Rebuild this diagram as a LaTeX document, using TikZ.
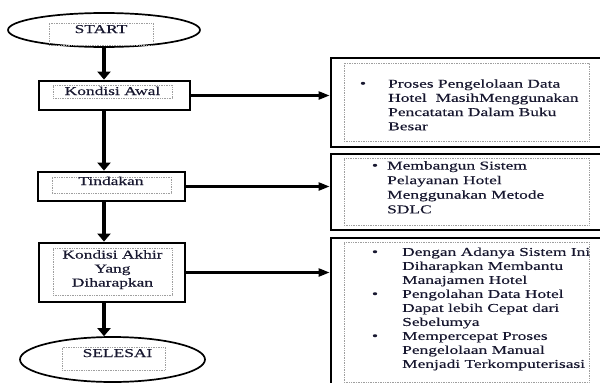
\documentclass[tikz,border=0pt]{standalone}
\usepackage{fontspec}
\setmainfont{Liberation Serif}[FakeStretch=1.45,FakeBold=0.3]
\usetikzlibrary{arrows.meta,shapes.geometric}
\definecolor{ink}{RGB}{24,24,48}

\begin{document}
\begin{tikzpicture}[x=1pt,y=-1pt,
  txt/.style={font=\fontsize{12}{14}\selectfont, text=ink, inner sep=0pt},
  flowbox/.style={draw, line width=2.8pt, rectangle, inner sep=0pt},
  oval/.style={draw, line width=1.7pt, ellipse, inner sep=0pt},
  frame/.style={draw=gray!75, densely dotted, line width=0.7pt, rectangle, inner sep=0pt},
  down/.style={line width=3.8pt, -{Triangle[length=8pt,width=13pt]}},
  side/.style={line width=2.3pt, -{Triangle[length=11pt,width=8pt]}},
]
\useasboundingbox (0,0) rectangle (600,383);
\clip (0,0) rectangle (600,383);

% main flow
\node[oval, minimum width=192pt, minimum height=34pt] (start) at (104,30) {};
\node[frame, minimum width=104pt, minimum height=22pt] (startf) at (101,34) {};
\node[txt, anchor=base] (startt) at (101,33) {START};

\node[flowbox, minimum width=151pt, minimum height=29pt] (awal) at (114.5,95.5) {};
\node[frame, minimum width=119pt, minimum height=13pt] (awalf) at (112.5,91.5) {};
\node[txt, anchor=base] (awalt) at (112.5,95) {Kondisi Awal};

\node[flowbox, minimum width=147pt, minimum height=29pt] (tind) at (111.5,186.5) {};
\node[frame, minimum width=119pt, minimum height=16pt] (tindf) at (111.5,185) {};
\node[txt, anchor=base] (tindt) at (111,185) {Tindakan};

\node[flowbox, minimum width=146pt, minimum height=59pt] (akhir) at (112,272.5) {};
\node[frame, minimum width=119pt, minimum height=47pt] (akhirf) at (112.5,271.5) {};
\node[txt, anchor=north, align=center] (akhirt) at (112.5,248.5)
  {\strut Kondisi Akhir\\Yang\\Diharapkan};

\node[oval, minimum width=185pt, minimum height=45pt] (selesai) at (112.5,359.5) {};
\node[frame, minimum width=103pt, minimum height=23pt] (selesaif) at (113.5,358.5) {};
\node[txt, anchor=base] (selesait) at (117.5,357) {SELESAI};

% explanation boxes
\node[flowbox, minimum width=289pt, minimum height=89pt] (r1) at (475.5,102.5) {};
\node[frame, minimum width=245pt, minimum height=78pt] (r1f) at (466.5,102) {};
\node[txt, anchor=base] (r1b) at (363,87.3) {\textbullet};
\node[txt, anchor=north west, align=left, font=\fontsize{12}{14.2}\selectfont] (r1t) at (388,77.5)
  {\strut Proses Pengelolaan Data\\Hotel\ \ MasihMenggunakan\\Pencatatan Dalam Buku\\Besar};

\node[flowbox, minimum width=289pt, minimum height=76pt] (r2) at (475.5,192) {};
\node[frame, minimum width=245pt, minimum height=67pt] (r2f) at (466.5,191.5) {};
\node[txt, anchor=base] (r2b) at (375,169.3) {\textbullet};
\node[txt, anchor=north west, align=left, font=\fontsize{12}{14.6}\selectfont] (r2t) at (387,159.1)
  {\strut Membangun Sistem\\Pelayanan Hotel\\Menggunakan Metode\\SDLC};

\node[flowbox, minimum width=289pt, minimum height=162pt] (r3) at (475.5,319) {};
\node[frame, minimum width=245pt, minimum height=140pt] (r3f) at (466.5,312) {};
\node[txt, anchor=base] (r3b1) at (375,255.7) {\textbullet};
\node[txt, anchor=base] (r3b2) at (375,297.7) {\textbullet};
\node[txt, anchor=base] (r3b3) at (375,339.7) {\textbullet};
\node[txt, anchor=north west, align=left] (r3t) at (402,245.9)
  {\strut Dengan Adanya Sistem Ini\\Diharapkan Membantu\\Manajamen Hotel\\
   Pengolahan Data Hotel\\Dapat lebih Cepat dari\\Sebelumya\\
   Mempercepat Proses\\Pengelolaan Manual\\Menjadi Terkomputerisasi};

% connectors
\draw[down] (start.south) -- (start.south |- awal.north);
\draw[down] (awal.south -| start) -- (tind.north -| start);
\draw[down] (tind.south -| start) -- (akhir.north -| start);
\draw[down] (akhir.south -| start) -- (selesai.north -| start);

\draw[side] (awal.east) -- (awal.east -| r1.west);
\draw[side] (tind.east) -- (tind.east -| r2.west);
\draw[side] (akhir.east) -- (akhir.east -| r3.west);
\end{tikzpicture}
\end{document}
